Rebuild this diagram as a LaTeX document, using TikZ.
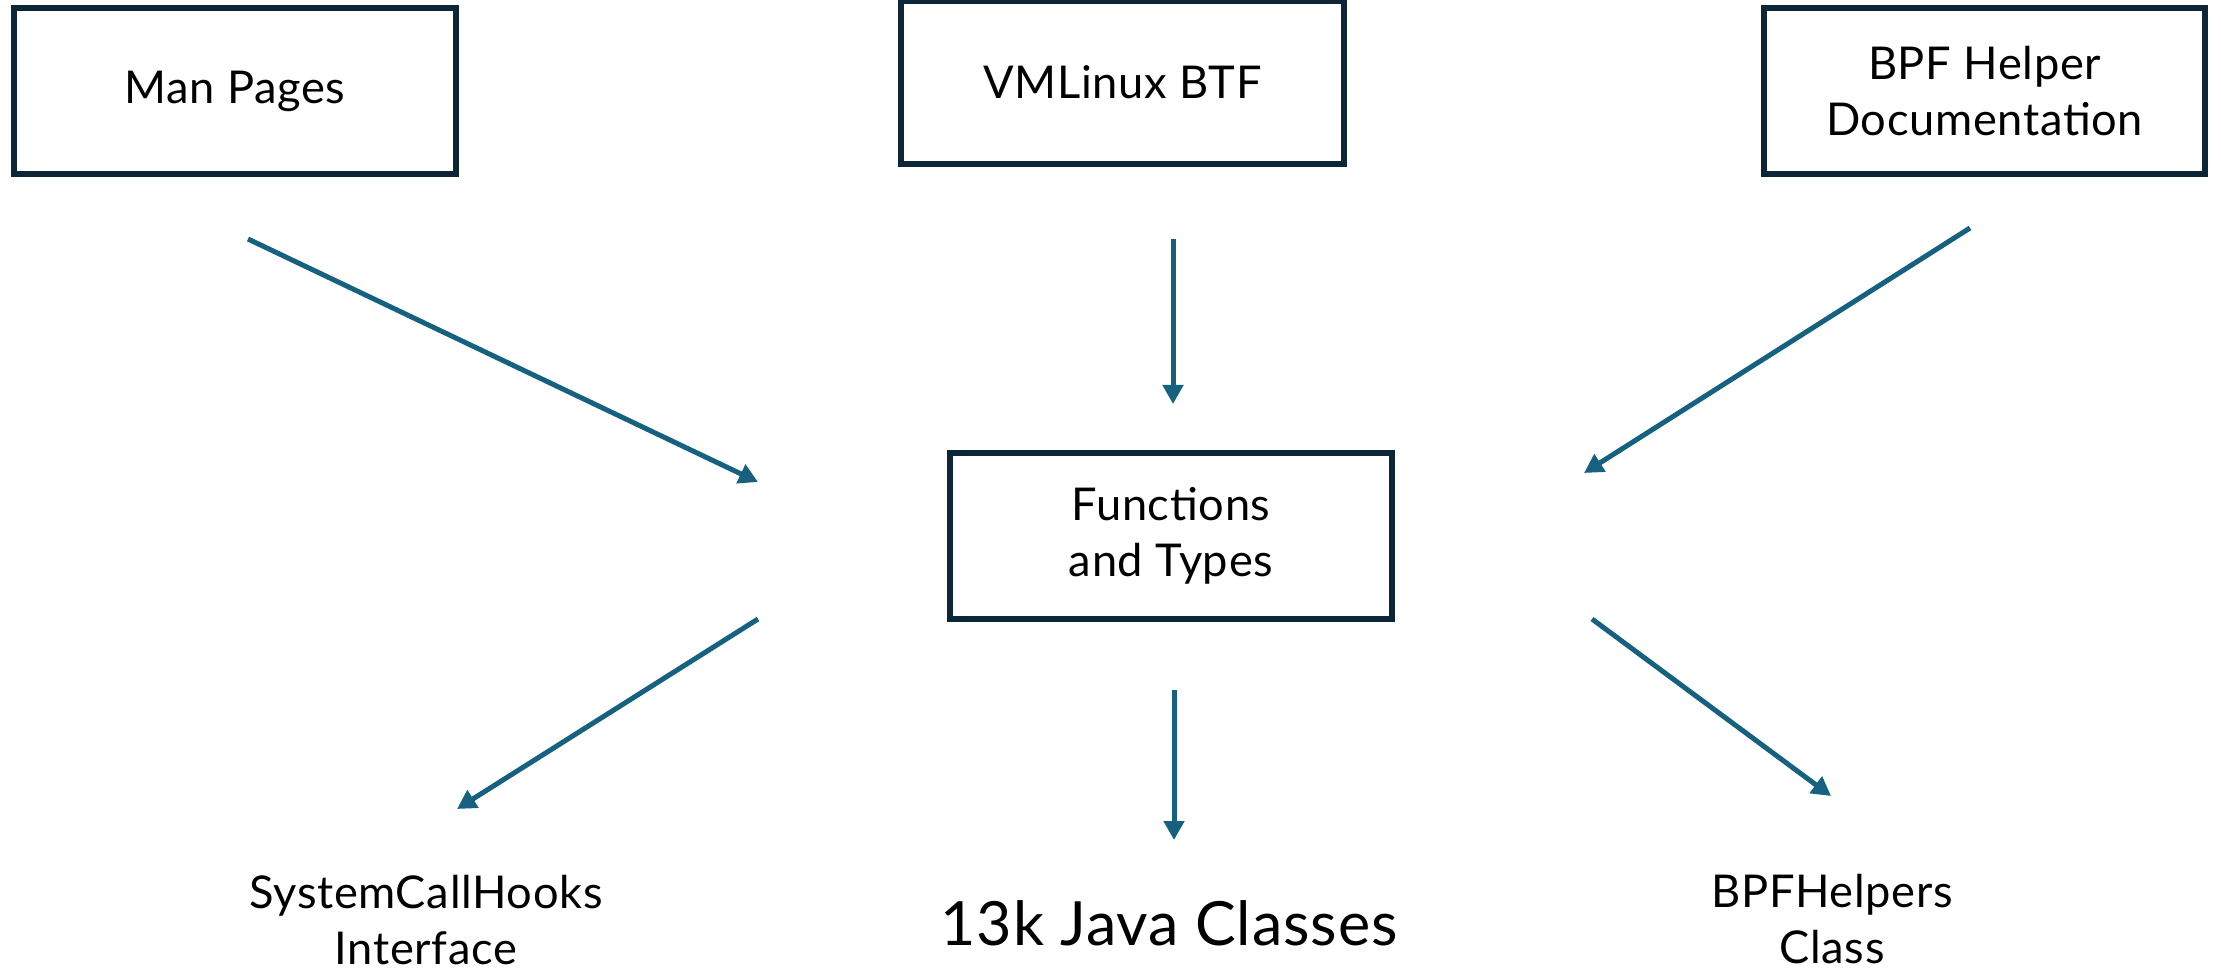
\documentclass[tikz,border=0pt]{standalone}
\usepackage{fontspec}
\setmainfont[LetterSpace=1.5]{Lato}
\usetikzlibrary{arrows.meta}
\definecolor{boxline}{HTML}{0C2637}
\definecolor{flow}{HTML}{15617F}
\begin{document}
\begin{tikzpicture}[x=0.5pt,y=-0.5pt,
  srcbox/.style={draw=boxline,line width=3pt,fill=white},
  label/.style={font=\fontsize{22.6pt}{28pt}\selectfont,align=center,text=black,inner sep=0pt},
  biglabel/.style={font=\fontsize{30.5pt}{36pt}\selectfont,align=center,text=black,inner sep=0pt},
  flowarrow/.style={draw=flow,line width=2.5pt,-{Triangle[length=9.5pt,width=10pt]}}]
  \useasboundingbox[fill=white] (0,0) rectangle (2221,972);

  % source boxes
  \draw[srcbox] (14,8) rectangle (456,174);
  \node[label] (man) at (235,91) {Man Pages};
  \draw[srcbox] (901,1) rectangle (1344,164);
  \node[label] (vml) at (1122.5,82.5) {VMLinux BTF};
  \draw[srcbox] (1764,8) rectangle (2205,174);
  \node[label] (bpf) at (1984.5,91) {BPF Helper\\Documentation};

  % central box
  \draw[srcbox] (950,453) rectangle (1392,619);
  \node[label] (fun) at (1171,536) {Functions\\and Types};

  % generated outputs
  \node[label] (sch) at (426,920) {SystemCallHooks\\Interface};
  \node[biglabel] (jav) at (1169,923) {13k Java Classes};
  \node[label] (bph) at (1832,919) {BPFHelpers\\Class};

  % arrow end points
  \coordinate (a1s) at (248,239);  \coordinate (a1e) at (758,482);
  \coordinate (a2s) at (1173,239); \coordinate (a2e) at (1173,404);
  \coordinate (a3s) at (1970,228); \coordinate (a3e) at (1584,473);
  \coordinate (a4s) at (758,619);  \coordinate (a4e) at (457,809);
  \coordinate (a5s) at (1174,690); \coordinate (a5e) at (1174,840);
  \coordinate (a6s) at (1592,619); \coordinate (a6e) at (1831,796);

  \draw[flowarrow] (a1s) -- (a1e);
  \draw[flowarrow] (a2s) -- (a2e);
  \draw[flowarrow] (a3s) -- (a3e);
  \draw[flowarrow] (a4s) -- (a4e);
  \draw[flowarrow] (a5s) -- (a5e);
  \draw[flowarrow] (a6s) -- (a6e);
\end{tikzpicture}
\end{document}
